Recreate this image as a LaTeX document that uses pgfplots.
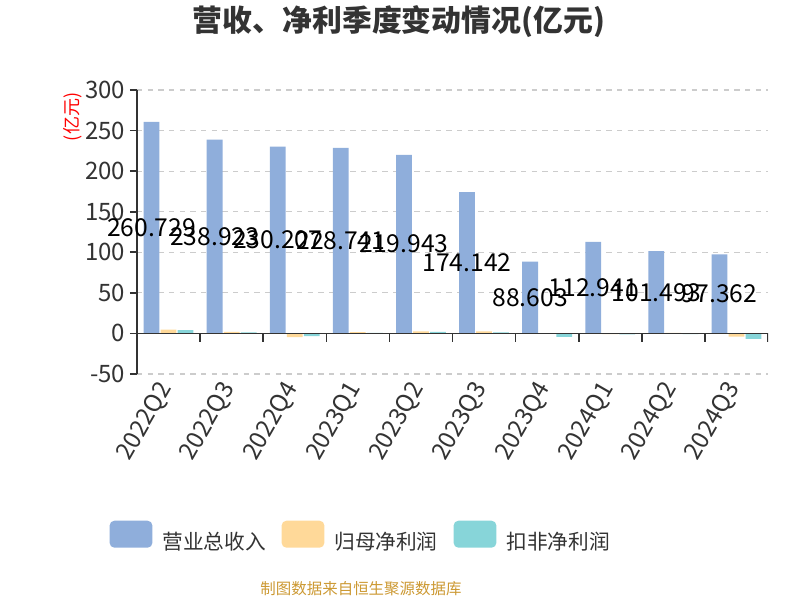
\documentclass[border=0pt]{standalone}
\usepackage{pgfplots}
\pgfplotsset{compat=1.18}
\usepackage{pgfplotstable}
\usepackage{fontspec}
\setmainfont{Noto Sans CJK SC}
\definecolor{c1}{HTML}{8FAEDB}
\definecolor{c2}{HTML}{FFD999}
\definecolor{c3}{HTML}{87D5D9}
\definecolor{txt}{HTML}{333333}
\definecolor{foot}{RGB}{204,153,51}
\definecolor{gridc}{HTML}{CCCCCC}

\pgfplotstableread{
x rev np dnp
0 260.729 4.8 4.2
1 238.923 2.0 1.3
2 230.207 -4.5 -3.2
3 228.741 1.5 0.6
4 219.943 2.6 2.0
5 174.142 2.4 1.4
6 88.603 -0.4 -4.2
7 112.941 -0.8 -1.1
8 101.493 0.6 -1.0
9 97.362 -4.0 -6.6
}\data

\begin{document}
\begin{tikzpicture}
\useasboundingbox (-102.75pt,-169.5pt) rectangle (497.25pt,280.5pt);
\begin{axis}[
  anchor=south west,
  scale only axis, width=473.25pt, height=213pt,
  xmin=-0.5, xmax=9.5, ymin=-50, ymax=300,
  ytick={-50,0,50,100,150,200,250,300},
  xtick={0,...,9},
  xticklabels={2022Q2,2022Q3,2022Q4,2023Q1,2023Q2,2023Q3,2023Q4,2024Q1,2024Q2,2024Q3},
  axis y line*=left, axis x line*=bottom,
  x axis line style={draw=none},
  y axis line style={draw=txt, line width=1.2pt},
  ytick style={draw=txt, line width=1.2pt},
  xtick style={draw=none},
  tick align=outside, major tick length=5.25pt,
  ymajorgrids, grid style={gridc, dash pattern=on 4pt off 4pt, line width=0.9pt},
  /pgf/number format/assume math mode=true,
  yticklabel style={font=\fontsize{18}{21}\selectfont, text=txt},
  xticklabel style={font=\fontsize{18}{21}\selectfont, text=txt, rotate=60, anchor=east},
  legend style={at={(0.355,-0.576)}, anchor=center, draw=none, fill=none,
    legend columns=3, font=\fontsize{15.5}{18}\selectfont, text=txt,
    /tikz/every even column/.append style={column sep=10pt},
    /tikz/every odd column/.append style={column sep=5.5pt}},
]
\addplot[ybar, bar width=0.25, bar shift=-0.27, fill=c1, draw=none,
  legend image code/.code={\fill[c1, rounded corners=3.5pt] (0pt,-4.2pt) rectangle (32pt,16pt);}]
  table[x=x,y=rev]{\data};
\addlegendentry{营业总收入}
\addplot[ybar, bar width=0.25, bar shift=0, fill=c2, draw=none,
  legend image code/.code={\fill[c2, rounded corners=3.5pt] (0pt,-4.2pt) rectangle (32pt,16pt);}]
  table[x=x,y=np]{\data};
\addlegendentry{归母净利润}
\addplot[ybar, bar width=0.25, bar shift=0.27, fill=c3, draw=none,
  legend image code/.code={\fill[c3, rounded corners=3.5pt] (0pt,-4.2pt) rectangle (32pt,16pt);}]
  table[x=x,y=dnp]{\data};
\addlegendentry{扣非净利润}
\addplot[forget plot, draw=none, mark=none, point meta=explicit symbolic,
  nodes near coords,
  every node near coord/.append style={anchor=center, font=\fontsize{18.5}{21}\selectfont, text=black}]
  table[x expr=\thisrow{x}-0.27, y expr=\thisrow{rev}/2, meta=rev]{\data};
\draw[txt, line width=1.2pt] (axis cs:-0.5,0) -- (axis cs:9.5,0);
\pgfplotsinvokeforeach{0.5,1.5,2.5,3.5,4.5,5.5,6.5,7.5,8.5,9.5}{
  \draw[txt, line width=1.2pt] (axis cs:#1,0) -- ++(0pt,-6.75pt);
}
\end{axis}
\node[font=\fontsize{22.4}{26}\selectfont\bfseries, text=txt] at (196.5pt,264pt) {营收、净利季度变动情况(亿元)};
\node[rotate=90, text=red, font=\fontsize{13.5}{16}\selectfont] at (-48pt,192.75pt) {(亿元)};
\node[font=\fontsize{11.6}{14}\selectfont, text=foot] at (168pt,-161.25pt) {制图数据来自恒生聚源数据库};
\end{tikzpicture}
\end{document}
